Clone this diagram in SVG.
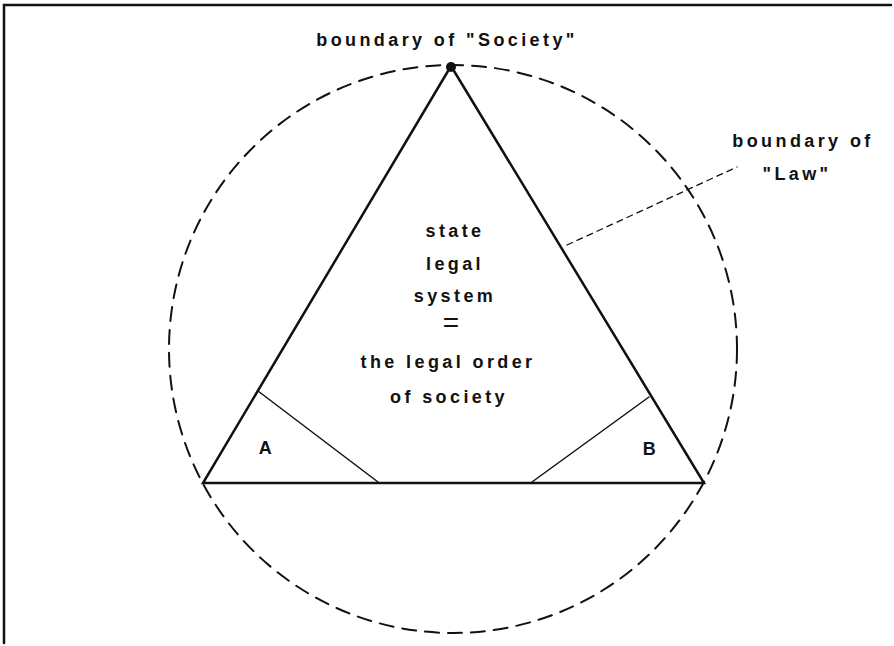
<svg xmlns="http://www.w3.org/2000/svg" width="894" height="646" viewBox="0 0 894 646">
<style>
text{font-family:"Liberation Sans",Arial,sans-serif;font-weight:bold;font-size:18px;letter-spacing:3.4px;fill:#111;text-anchor:middle}
.ln{stroke:#111;fill:none;stroke-linecap:round}
</style>
<rect width="894" height="646" fill="#fff"/>
<g id="frame"><path class="ln" d="M4,643 V5 H891" stroke-width="2.5"/></g>
<g id="law-boundary"><circle class="ln" cx="453" cy="349" r="284" stroke-width="2" stroke-dasharray="14,9"/></g>
<g id="triangle"><path class="ln" d="M451,66 L203,483 L704,483 Z" stroke-width="2.5" stroke-linejoin="miter"/>
<circle cx="451" cy="67" r="5" fill="#111"/></g>
<g id="angle-A"><line class="ln" x1="258" y1="391" x2="378" y2="482" stroke-width="1.5"/><text x="267" y="454">A</text></g>
<g id="angle-B"><line class="ln" x1="649" y1="397" x2="532" y2="482" stroke-width="1.5"/><text x="651" y="455">B</text></g>
<g id="connectors"><line class="ln" x1="567" y1="245" x2="737" y2="167" stroke-width="1.3" stroke-dasharray="6,5"/></g>
<g id="label-society"><text x="447" y="46">boundary of "Society"</text></g>
<g id="label-law"><text x="803" y="147">boundary of</text><text x="797" y="180">"Law"</text></g>
<g id="center-text">
<text x="455" y="237">state</text>
<text x="455" y="270">legal</text>
<text x="455" y="302">system</text>
<text x="451" y="332" style="font-size:28px;font-weight:normal;letter-spacing:0">=</text>
<text x="448" y="368">the legal order</text>
<text x="449" y="403">of society</text>
</g>
</svg>
